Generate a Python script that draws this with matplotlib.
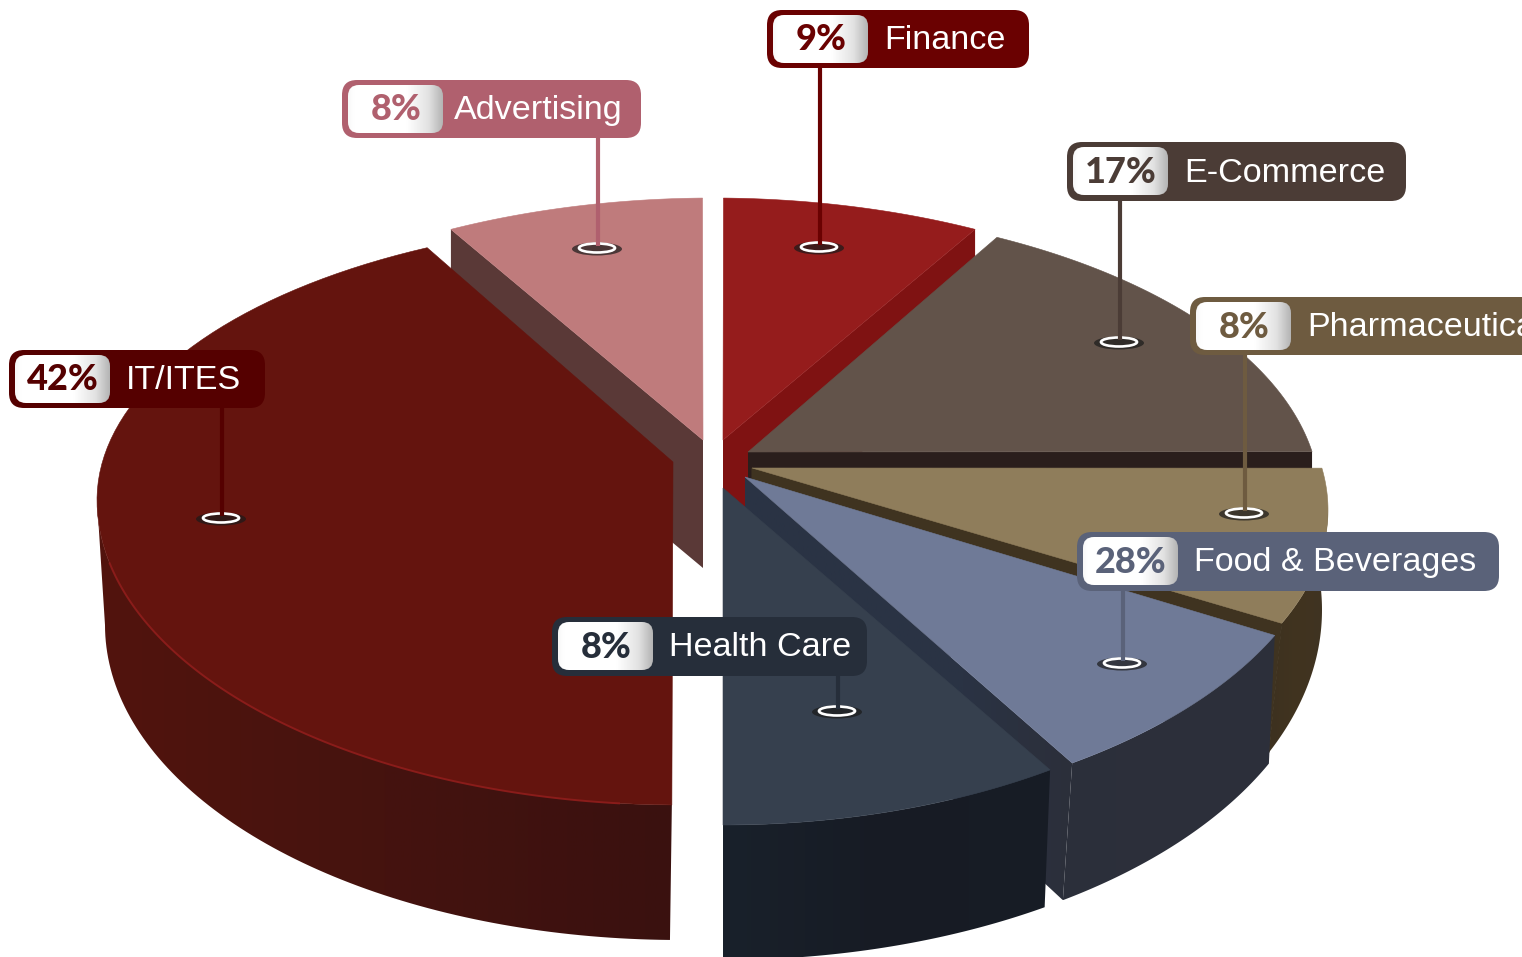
import numpy as np
import matplotlib
matplotlib.use("Agg")
import matplotlib.pyplot as plt
from matplotlib.patches import Polygon, FancyBboxPatch, Ellipse
from matplotlib.colors import LinearSegmentedColormap

# ---- data ----
categories = ["Advertising", "IT/ITES", "Finance", "E-Commerce", "Pharmaceuticals", "Food & Beverages", "Health Care"]
percent_labels = [8, 42, 9, 17, 8, 28, 8]
slice_start_deg = [244.1, 90.8, 271.0, 296.3, -8.3, 25.2, 55.6]
slice_end_deg = [269.0, 244.3, 295.9, 350.5, 23.0, 55.8, 90.0]

# ---- layout (pixel frame of the perspective drawing) ----
TOP = {
    "Advertising": dict(c=(713, 510), a=600, b=312, apex=(703, 440)),
    "IT/ITES": dict(c=(680, 500), a=583, b=305, b_up=280, apex=(673, 462)),
    "Finance": dict(c=(713, 510), a=600, b=312, apex=(723, 440)),
    "E-Commerce": dict(c=(740, 500), a=580, b=293, apex=(748, 452)),
    "Pharmaceuticals": dict(c=(745, 510), a=583, b=290, apex=(752, 468)),
    "Food & Beverages": dict(c=(740, 500), a=591, b=318, apex=(745, 477)),
    "Health Care": dict(c=(723, 510), a=579, b=315, apex=(723, 488)),
}
BOTTOM = {
    "IT/ITES": dict(c=(680, 625), a=575, b=315, t=(91, 180)),
    "Pharmaceuticals": dict(c=(745, 610), a=577, b=340, t=(-8, 24.8)),
    "Food & Beverages": dict(c=(740, 620), a=585, b=336, t=(25.3, 56.5)),
    "Health Care": dict(c=(723, 625), a=597, b=335, t=(57.4, 90)),
}
TOP_COL = {"Advertising": "#bf7b7c", "IT/ITES": "#64140e", "Finance": "#951c1c", "E-Commerce": "#62534a",
           "Pharmaceuticals": "#8f7d5b", "Food & Beverages": "#6f7a97", "Health Care": "#36404e"}
INNER_COL = {"Advertising": "#5a3937", "Finance": "#7f1212", "E-Commerce": "#2a1e1c",
             "Pharmaceuticals": "#3f3320", "Food & Beverages": "#2a3344"}
OUTER_GRAD = {"IT/ITES": ("#52140d", "#45130f", "#3a110f"), "Pharmaceuticals": ("#3d3120", "#41341f", "#3f3323"),
              "Food & Beverages": ("#2b2f3a", "#2d303b", "#2c2f3a"), "Health Care": ("#19212b", "#171b24", "#181d26")}
INNER_GRAD_FOOD = ("#2a3344", "#2a3344", "#2a3344", "#2c2f3a")
DEPTH = 128

BOX = {
    "Finance": (767, 1029, 10, 68, "#6a0101", 820, 247),
    "Advertising": (342, 641, 80, 138, "#b0606e", 598, 248),
    "E-Commerce": (1067, 1406, 142, 201, "#4b3c36", 1120, 342),
    "Pharmaceuticals": (1190, 1545, 297, 355, "#6e5b40", 1245, 513),
    "Food & Beverages": (1077, 1499, 532, 591, "#5a6279", 1123, 663),
    "Health Care": (552, 867, 617, 676, "#262e3a", 838, 711),
    "IT/ITES": (9, 265, 350, 408, "#550000", 222, 518),
}
LABEL_DX = {"Advertising": -5}

fig = plt.figure(figsize=(15.22, 9.57), dpi=100)
ax = fig.add_axes([0, 0, 1, 1])
ax.set_xlim(0, 1522)
ax.set_ylim(957, 0)
ax.axis("off")
z = [1]


def nz():
    z[0] += 1
    return z[0]


def arc(g, t0, t1, n=90):
    t = np.radians(np.linspace(t0, t1, n))
    s = np.sin(t)
    b = np.where(s < 0, g.get("b_up", g["b"]), g["b"])
    return np.column_stack([g["c"][0] + g["a"] * np.cos(t), g["c"][1] + b * s])


def grad_fill(pts, cols, zo):
    x0, x1 = pts[:, 0].min(), pts[:, 0].max()
    y0, y1 = pts[:, 1].min(), pts[:, 1].max()
    cm = LinearSegmentedColormap.from_list("g", cols)
    im = ax.imshow(np.linspace(0, 1, 256)[None, :], cmap=cm, extent=(x0, x1, y1, y0), aspect="auto", zorder=zo)
    p = Polygon(pts, closed=True, transform=ax.transData, facecolor="none", edgecolor="none")
    ax.add_patch(p)
    im.set_clip_path(p)


def draw_inner(name, rim, bottom=None, grad=None, seam=0.0):
    apex = np.array(TOP[name]["apex"], float)
    rim = np.array(rim, float)
    bot = np.array(bottom, float) if bottom is not None else rim + (0, DEPTH)
    pts = np.array([apex, rim, bot, apex + (0, DEPTH)])
    if grad:
        grad_fill(pts, grad, nz())
    else:
        ax.add_patch(Polygon(pts, closed=True, fc=INNER_COL[name], ec=INNER_COL[name], lw=seam, zorder=nz()))


def draw_outer(name, t0, t1):
    g = BOTTOM[name]
    top = arc(TOP[name], t0, t1)
    bot = arc(g, *g["t"])[::-1]
    grad_fill(np.vstack([top, bot]), OUTER_GRAD[name], nz())


def draw_top(name, t0, t1):
    g = TOP[name]
    pts = np.vstack([[g["apex"]], arc(g, t0, t1)])
    ax.add_patch(Polygon(pts, closed=True, fc=TOP_COL[name], ec=TOP_COL[name], lw=0.4, zorder=nz()))


T = {n: (s, e) for n, s, e in zip(categories, slice_start_deg, slice_end_deg)}


def rim_pt(name, t):
    return arc(TOP[name], t, t, 1)[0]


# Advertising
draw_inner("Advertising", rim_pt("Advertising", T["Advertising"][0]))
draw_top("Advertising", *T["Advertising"])
# IT/ITES
draw_outer("IT/ITES", T["IT/ITES"][0], 180)
draw_top("IT/ITES", *T["IT/ITES"])
rim = arc(TOP["IT/ITES"], 96, 168)
ax.plot(rim[:, 0], rim[:, 1], color="#8a1c1a", lw=1.4, zorder=nz())
# Finance
draw_inner("Finance", rim_pt("Finance", T["Finance"][1]))
draw_top("Finance", *T["Finance"])
# E-Commerce
draw_inner("E-Commerce", rim_pt("E-Commerce", T["E-Commerce"][1]))
draw_top("E-Commerce", *T["E-Commerce"])
# Pharmaceuticals
g = BOTTOM["Pharmaceuticals"]
draw_inner("Pharmaceuticals", rim_pt("Pharmaceuticals", T["Pharmaceuticals"][1]), arc(g, g["t"][1], g["t"][1], 1)[0], seam=0.8)
draw_outer("Pharmaceuticals", 0, T["Pharmaceuticals"][1])
draw_top("Pharmaceuticals", *T["Pharmaceuticals"])
# Food
g = BOTTOM["Food & Beverages"]
draw_inner("Food & Beverages", rim_pt("Food & Beverages", T["Food & Beverages"][1]), arc(g, g["t"][1], g["t"][1], 1)[0],
           grad=INNER_GRAD_FOOD)
draw_outer("Food & Beverages", *T["Food & Beverages"])
draw_top("Food & Beverages", *T["Food & Beverages"])
# Health
draw_outer("Health Care", *T["Health Care"])
draw_top("Health Care", *T["Health Care"])

# ---- callouts ----
pill_cm = LinearSegmentedColormap.from_list("p", [(0, "#f8f8f8"), (0.06, "#ffffff"), (0.62, "#ffffff"), (0.85, "#e2e2e2"), (1, "#b4b4b4")])
for name, pct in zip(categories, percent_labels):
    x0, x1, y0, y1, col, px, py = BOX[name]
    # leader and pin
    ax.add_patch(Ellipse((px - 1, py + 1), 50, 13, fc="#1a1a1a", ec="none", alpha=0.7, zorder=nz()))
    ax.add_patch(Ellipse((px - 1, py), 36, 9, fc="#00000000", ec="white", lw=1.9, zorder=nz()))
    ax.plot([px, px], [y1 - 2, py - 2], color=col, lw=3.0, solid_capstyle="butt", zorder=nz())
    # box
    ax.add_patch(FancyBboxPatch((x0, y0), x1 - x0, y1 - y0, boxstyle="round,pad=0,rounding_size=15",
                                fc=col, ec="none", zorder=nz(), clip_on=True))
    pw, ph = 95, 48
    px0, py0 = x0 + 6, y0 + 5
    zo = nz()
    im = ax.imshow(np.linspace(0, 1, 256)[None, :], cmap=pill_cm, extent=(px0, px0 + pw, py0 + ph, py0), aspect="auto", zorder=zo)
    clip = FancyBboxPatch((px0, py0), pw, ph, boxstyle="round,pad=0,rounding_size=11", fc="none", ec="none", zorder=zo)
    ax.add_patch(clip)
    im.set_clip_path(clip)
    ax.text(px0 + pw / 2 + 0.5, (y0 + y1) / 2 + 1, f"{pct}%", family=["Lato"], weight="black", fontsize=26,
            color=col, ha="center", va="center", zorder=nz())
    ax.text(px0 + pw + 16 + LABEL_DX.get(name, 0), (y0 + y1) / 2 + 1.5, name, family=["Liberation Sans"], fontsize=24.6,
            color="white", ha="left", va="center", zorder=nz())

ax.set_xlim(0, 1522)
ax.set_ylim(957, 0)
fig.savefig("out.png", dpi=100, facecolor="white")
